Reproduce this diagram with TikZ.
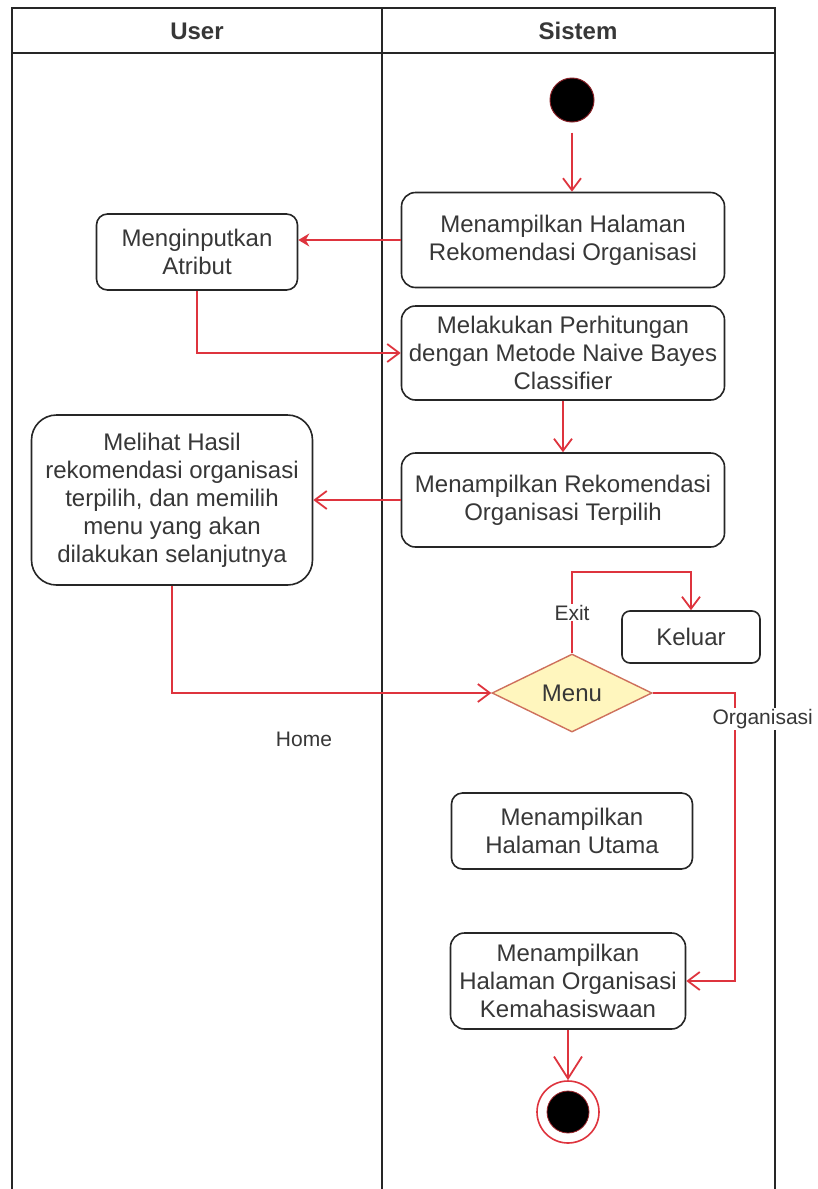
\documentclass[tikz,border=0pt]{standalone}
\usepackage{fontspec}
\setmainfont{Liberation Sans}
\usepackage{tikz}
\usetikzlibrary{positioning, shapes.geometric, arrows.meta}
\definecolor{edgered}{RGB}{222,52,62}
\definecolor{menufill}{RGB}{255,246,190}
\definecolor{menuline}{RGB}{206,112,92}
\definecolor{boxtext}{RGB}{55,55,55}
\newcommand{\boxfont}{\fontsize{24}{28}\selectfont}
\newcommand{\lblfont}{\fontsize{21}{24}\selectfont}

\begin{document}
\begin{tikzpicture}[x=1pt, y=-1pt, on grid,
	>={Straight Barb[length=12pt,width=18pt]},
	activity/.style={draw=black!85, line width=1.6pt, fill=white, align=center, font=\boxfont, text=boxtext, inner sep=2pt},
	decision/.style={diamond, aspect=2, draw=menuline, line width=1.4pt, fill=menufill, font=\boxfont, text=boxtext, inner sep=0pt, minimum width=160pt, minimum height=78pt},
	startstate/.style={circle, fill=black, draw=edgered!60!black, line width=1pt, minimum size=44pt, inner sep=0pt},
	endring/.style={circle, fill=white, draw=edgered, line width=1.6pt, minimum size=62pt, inner sep=0pt},
	enddot/.style={circle, fill=black, draw=edgered!70!black, line width=0.8pt, minimum size=42pt, inner sep=0pt},
	flow/.style={draw=edgered, line width=1.8pt},
	lbl/.style={fill=white, font=\lblfont, text=boxtext, inner sep=1pt},
	lane/.style={font=\bfseries\boxfont, text=boxtext}]
	\useasboundingbox (0,0) rectangle (817,1189);
	\draw[line width=1.8pt, black!85] (12,1189) -- (12,8) -- (775,8) -- (775,1189) (12,53) -- (775,53) (382,8) -- (382,1189);
	\node[lane] (user) at (197,31) {User};
	\node[lane] (sistem) at (578,31) {Sistem};
	
	\node[activity, rounded corners=14pt, minimum width=323pt, minimum height=95pt] (tampil) at (563,240) {Menampilkan Halaman\\Rekomendasi Organisasi};
	\node[startstate] (start) [above right=140pt and 9pt of tampil] {};
	\node[activity, rounded corners=11pt, minimum width=201pt, minimum height=76pt] (input) [below left=12pt and 366pt of tampil] {Menginputkan\\Atribut};
	\node[activity, rounded corners=14pt, minimum width=323pt, minimum height=94pt] (hitung) [below=113pt of tampil] {Melakukan Perhitungan\\dengan Metode Naive Bayes\\Classifier};
	\node[activity, rounded corners=14pt, minimum width=323pt, minimum height=94pt] (hasil) [below=147pt of hitung] {Menampilkan Rekomendasi\\Organisasi Terpilih};
	\node[activity, rounded corners=25pt, minimum width=281pt, minimum height=170pt] (lihat) [left=391pt of hasil] {Melihat Hasil\\rekomendasi organisasi\\terpilih, dan memilih\\menu yang akan\\dilakukan selanjutnya};
	\node[decision] (menu) [below right=193pt and 9pt of hasil] {Menu};
	\node[activity, rounded corners=8pt, minimum width=138pt, minimum height=52pt] (keluar) [above right=56pt and 119pt of menu] {Keluar};
	\node[activity, rounded corners=11pt, minimum width=241pt, minimum height=76pt] (utama) [below=138pt of menu] {Menampilkan\\Halaman Utama};
	\node[activity, rounded corners=14pt, minimum width=235pt, minimum height=96pt] (ormawa) [below left=288pt and 4pt of menu] {Menampilkan\\Halaman Organisasi\\Kemahasiswaan};
	\node[endring] (stop) [below=131pt of ormawa] {};
	\node[enddot] (stopdot) at (stop) {};
	\node[lbl] (home) [below left=46pt and 268pt of menu] {Home};
	
	\path[->, flow]
	(start) edge[shorten <=10pt] (start |- tampil.north)
	(hitung) edge (hasil)
	(hasil) edge (lihat)
	(ormawa) edge[-{Straight Barb[length=22pt,width=28pt]}] (stop)
	;
	\draw[flow, -{Stealth[length=11pt,width=13pt]}] (tampil.west) -- (tampil.west -| input.east);
	\draw[flow, ->] (input) |- (hitung);
	\draw[flow, ->] (lihat) |- (menu);
	\draw[flow, ->] (menu.north) -- node[lbl] (exit) {Exit} ++(0,-81) -| (keluar);
	\draw[flow, ->] (menu.east) -- ++(82,0) |- node[lbl, pos=0.045, xshift=28pt] (organisasi) {Organisasi} (ormawa);
	
\end{tikzpicture}
\end{document}
